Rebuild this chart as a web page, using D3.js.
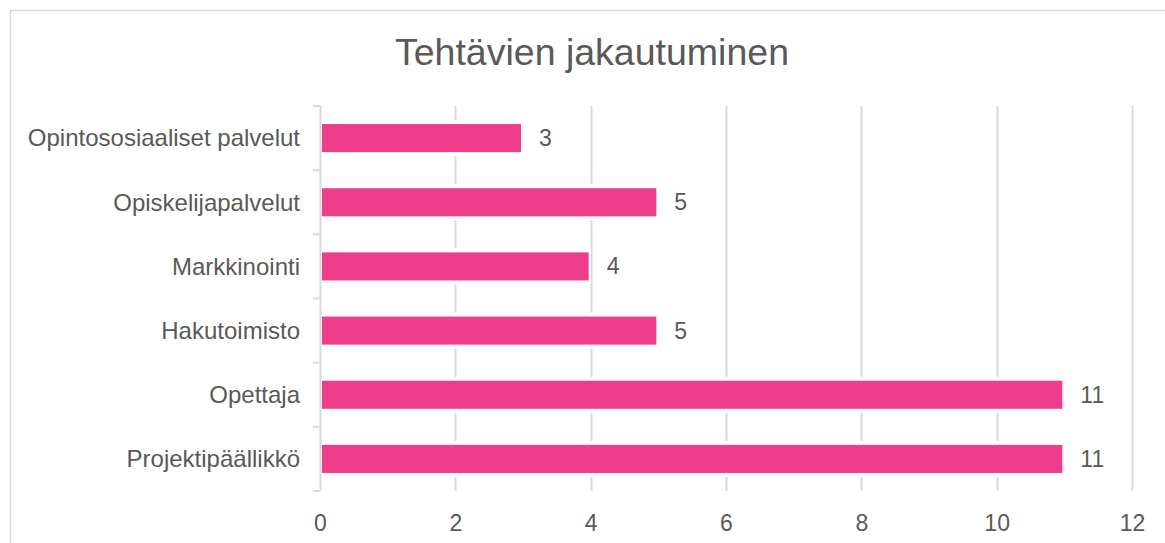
<!DOCTYPE html>
<html>
<head>
<meta charset="utf-8">
<script src="https://cdn.jsdelivr.net/npm/d3@7"></script>
<style>
  body{margin:0;background:#fff;}
  svg{display:block;font-family:"Liberation Sans",Arial,sans-serif;}
</style>
</head>
<body>
<svg id="chart" width="1165" height="543"></svg>
<script>
// data, top to bottom as in the chart
const categories=["Opintososiaaliset palvelut","Opiskelijapalvelut","Markkinointi","Hakutoimisto","Opettaja","Projektipäällikkö"];
const values=[3,5,4,5,11,11];
const xTicks=[0,2,4,6,8,10,12];
const title="Tehtävien jakautuminen";

const W=1165,H=543;
const margin={left:320,top:106,right:33,bottom:52};
const width=W-margin.left-margin.right,height=H-margin.top-margin.bottom;
const txt="#595959",grid="#d9d9d9",barColor="#ee3d8a";

const svg=d3.select("#chart");
// outer chart frame (runs off the right/bottom of the picture)
svg.append("rect")
  .attr("x",10.5).attr("y",10.5)
  .attr("width",W).attr("height",H)
  .attr("fill","#fff").attr("stroke",grid).attr("stroke-width",1.5);

svg.append("text")
  .attr("x",592).attr("y",65)
  .attr("text-anchor","middle")
  .style("font-size","37.5px").style("fill",txt)
  .text(title);

const g=svg.append("g").attr("transform","translate("+margin.left+","+margin.top+")");

const x=d3.scaleLinear().domain([0,12]).range([0,width]);
const y=d3.scaleBand().domain(categories).range([0,height]).paddingInner(0.5625).paddingOuter(0.28125);

// gridlines
g.append("g").selectAll("line")
  .data(xTicks.filter(function(d){return d>0;}))
  .enter().append("line")
    .attr("x1",function(d){return Math.round(x(d))+0.5;})
    .attr("x2",function(d){return Math.round(x(d))+0.5;})
    .attr("y1",0).attr("y2",height)
    .style("stroke",grid).style("stroke-width",2);

// white gap round bars
g.append("g").selectAll("rect")
  .data(values)
  .enter().append("rect")
    .attr("x",x(0))
    .attr("y",function(d,i){return y(categories[i])-4;})
    .attr("width",function(d){return x(d)-x(0);})
    .attr("height",y.bandwidth()+8)
    .style("fill","#fff");

// bars
g.append("g").selectAll("rect")
  .data(values)
  .enter().append("rect")
    .attr("x",x(0)+2)
    .attr("y",function(d,i){return y(categories[i]);})
    .attr("width",function(d){return x(d)-x(0)-4;})
    .attr("height",y.bandwidth())
    .style("fill",barColor);

// y axis line with ticks between categories
const yAxisG=g.append("g");
yAxisG.append("line")
  .attr("x1",0.5).attr("x2",0.5).attr("y1",0).attr("y2",height)
  .style("stroke",grid).style("stroke-width",2);
yAxisG.selectAll("line.tk")
  .data(d3.range(categories.length+1))
  .enter().append("line").attr("class","tk")
    .attr("x1",-7).attr("x2",0.5)
    .attr("y1",function(i){return i*height/categories.length;})
    .attr("y2",function(i){return i*height/categories.length;})
    .style("stroke",grid).style("stroke-width",2);

// category labels
g.append("g").selectAll("text")
  .data(categories)
  .enter().append("text")
    .attr("x",-20)
    .attr("y",function(d){return y(d)+y.bandwidth()/2;})
    .attr("dy","0.35em")
    .attr("text-anchor","end")
    .style("font-size","24px").style("fill",txt)
    .text(function(d){return d;});

// x tick labels
const xAxis=d3.axisBottom(x).tickValues(xTicks).tickSize(0).tickPadding(24);
const xg=g.append("g").attr("transform","translate(0,"+height+")").call(xAxis);
xg.select(".domain").remove();
xg.selectAll("text").style("font-size","23px").style("fill",txt).style("font-family","Liberation Sans, Arial, sans-serif");

// data labels
g.append("g").selectAll("text")
  .data(values)
  .enter().append("text")
    .attr("x",function(d){return x(d)+16;})
    .attr("y",function(d,i){return y(categories[i])+y.bandwidth()/2;})
    .attr("dy","0.35em")
    .style("font-size","23px").style("fill",txt)
    .text(function(d){return d;});
</script>
</body>
</html>
